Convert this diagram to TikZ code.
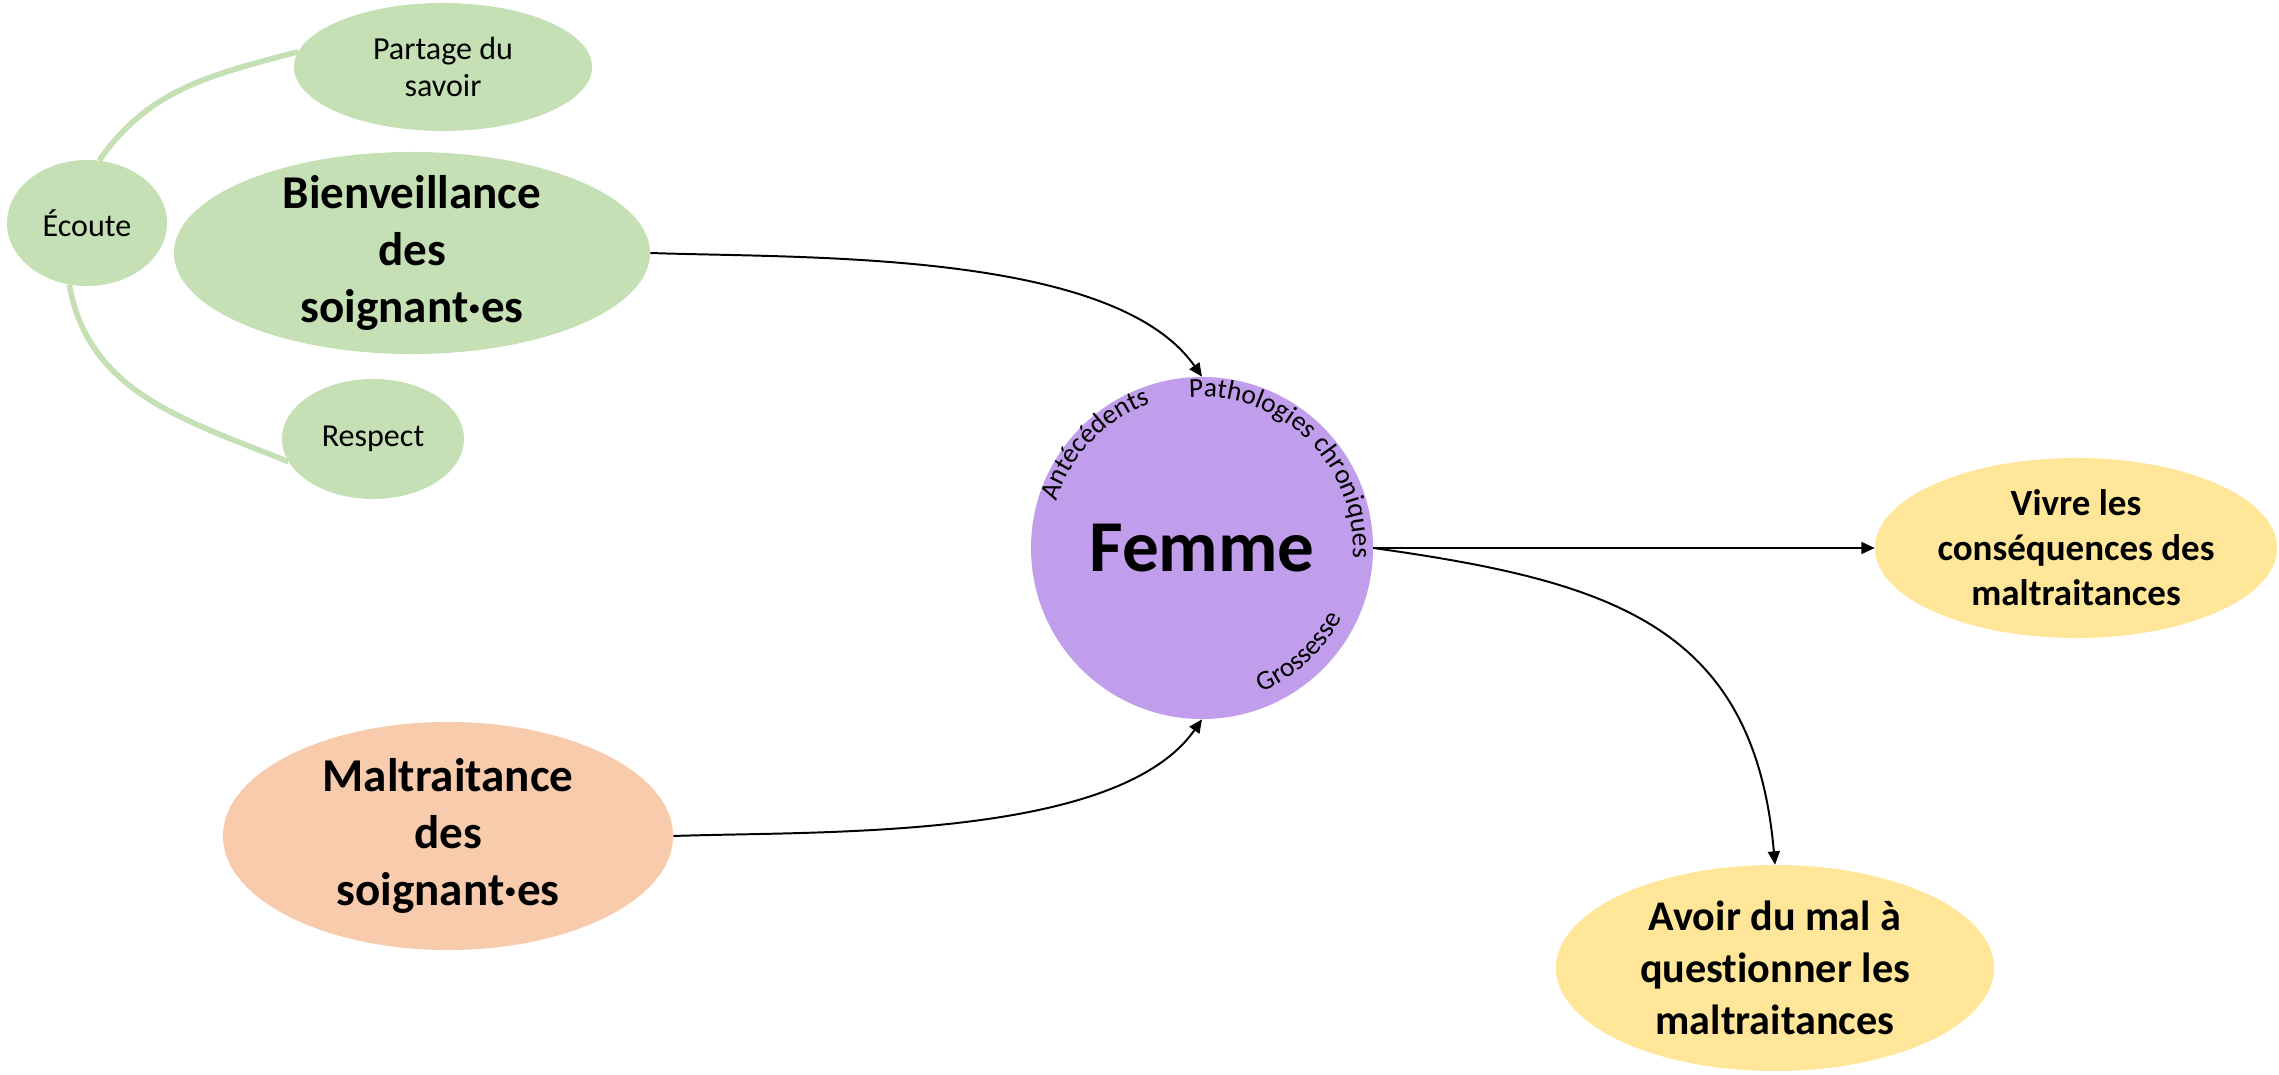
\documentclass[tikz,border=0pt]{standalone}
\usepackage{fontspec}
\setmainfont{Carlito}[Ligatures=NoCommon]
\usetikzlibrary{shapes.geometric,arrows.meta,decorations.text}

\definecolor{vertclair}{RGB}{197,224,180}
\definecolor{peche}{RGB}{248,203,173}
\definecolor{jaune}{RGB}{255,230,153}
\definecolor{mauve}{RGB}{193,158,235}
\newcommand\arcfont{\fontsize{19.5}{19.5}\selectfont}

\begin{document}
\begin{tikzpicture}[x=0.025cm, y=0.025cm,
  bulle/.style={ellipse, inner xsep=0pt, inner ysep=-0.4cm, align=center},
  petit/.style={font=\fontsize{22.8}{26.3}\selectfont},
  gras/.style={font=\fontsize{33.5}{40.5}\selectfont\bfseries},
  fleche/.style={-{Triangle[length=9.5pt,width=8.5pt]}, line width=1.4pt},
  lien/.style={vertclair, line width=4pt}]

\useasboundingbox (0,0) rectangle (2279,1074);

%左边绿色的气泡
\node[bulle, petit, fill=vertclair, minimum width=7.45cm, minimum height=3.2cm] (partage) at (443,1007) {Partage du\\savoir};
\node[bulle, petit, fill=vertclair, minimum width=4cm, minimum height=3.15cm] (ecoute) at (87,851) {Écoute};
\node[bulle, gras, fill=vertclair, minimum width=11.9cm, minimum height=5.05cm] (bien) at (412,821) {Bienveillance\\des\\soignant·es};
\node[bulle, petit, fill=vertclair, minimum width=4.55cm, minimum height=3cm] (respect) at (373,635) {Respect};
%把Écoute和上下两个气泡连起来
\draw[lien] (ecoute.79) to[out=55, in=195] (partage.174);
\draw[lien] (ecoute.254) to[out=-80, in=158] (respect.195);

%中间的紫色大圆
\node[circle, fill=mauve, inner sep=0pt, minimum size=8.55cm, font=\fontsize{52}{60}\selectfont\bfseries] (femme) at (1202,526) {Femme};
%沿着圆周写的字
\path[decorate, decoration={text along path, text align=center, text={|\arcfont|Antécédents}}]
  ([shift={(170:153)}]femme.center) arc[start angle=170, end angle=102, radius=153];
\path[decorate, decoration={text along path, text align=center, text={|\arcfont|Pathologies chroniques}}]
  ([shift={(100:151)}]femme.center) arc[start angle=100, end angle=-9, radius=151];
\path[decorate, decoration={text along path, text align=center, text={|\arcfont|Grossesse}}]
  ([shift={(-75:156)}]femme.center) arc[start angle=-75, end angle=-19, radius=156];

%下面的橙色气泡
\node[bulle, gras, fill=peche, minimum width=11.25cm, minimum height=5.7cm] (malt) at (448,238) {Maltraitance\\des\\soignant·es};

%右边黄色的两个气泡
\node[bulle, fill=jaune, minimum width=10.05cm, minimum height=4.5cm, font=\fontsize{26.3}{32}\selectfont\bfseries] (vivre) at (2076,526) {Vivre les\\conséquences des\\maltraitances};
\node[bulle, fill=jaune, minimum width=10.95cm, minimum height=5.15cm, font=\fontsize{30}{37}\selectfont\bfseries] (avoir) at (1775,106) {Avoir du mal à\\questionner les\\maltraitances};

%箭头
\draw[fleche] (bien.east) to[out=-2, in=125, looseness=0.7] (femme.north);
\draw[fleche] (malt.east) to[out=2, in=-125, looseness=0.7] (femme.south);
\draw[fleche] (femme.east) -- (vivre.west);
\draw[fleche] (femme.east) to[out=-8, in=95, looseness=1.2] (avoir.north);

\end{tikzpicture}
\end{document}
